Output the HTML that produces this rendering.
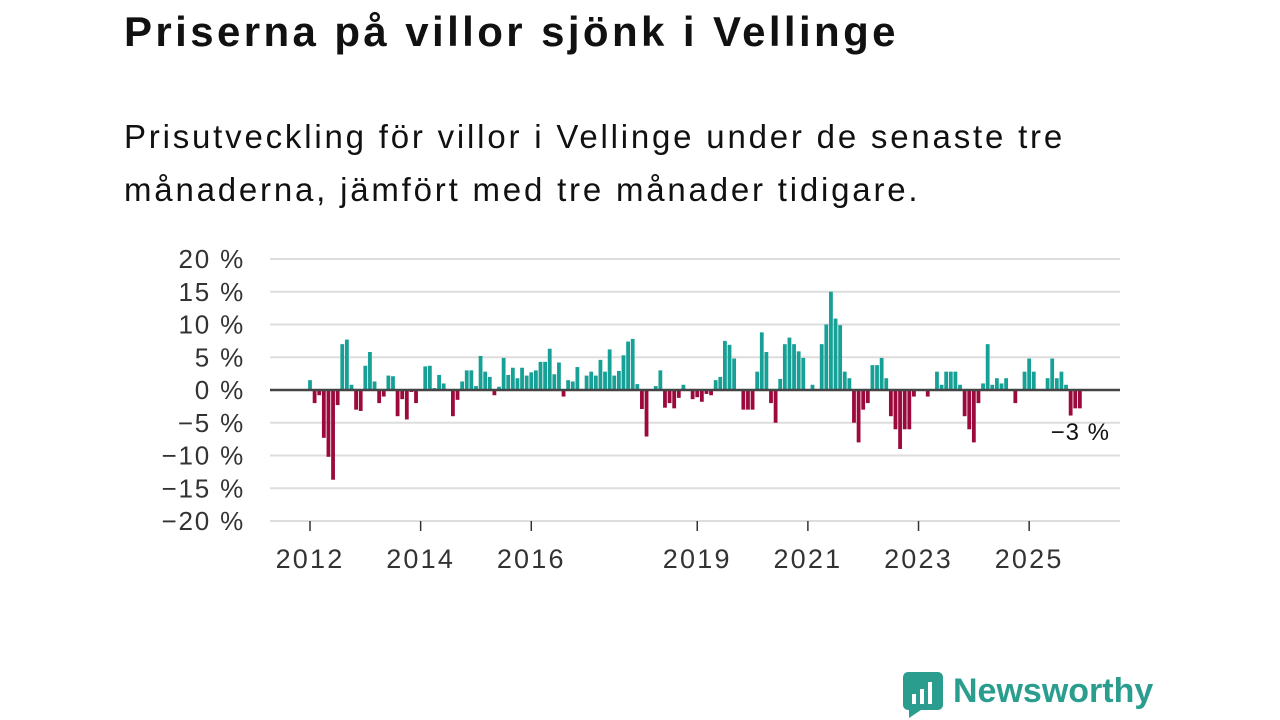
<!DOCTYPE html>
<html><head><meta charset="utf-8"><style>
body{margin:0;width:1280px;height:720px;background:#fff;font-family:"Liberation Sans",sans-serif;overflow:hidden;position:relative}
h1{position:absolute;left:124px;top:8px;margin:0;font-size:42px;font-weight:bold;color:#111;letter-spacing:3.4px}
.sub{position:absolute;left:124px;top:110px;font-size:33px;line-height:53px;color:#111;width:1100px;letter-spacing:2.8px}
svg{position:absolute;left:0;top:0}
</style></head><body>
<h1>Priserna på villor sjönk i Vellinge</h1>
<div class="sub">Prisutveckling för villor i Vellinge under de senaste tre<br>månaderna, jämfört med tre månader tidigare.</div>
<svg id="chart" width="1280" height="720"></svg>
<script>
const values=[1.5,-2,-0.8,-7.3,-10.2,-13.7,-2.3,7,7.7,0.8,-3,-3.2,3.7,5.8,1.3,-2,-1,2.2,2.1,-4,-1.4,-4.5,-0.3,-2,0,3.6,3.7,0.3,2.3,1,0,-4,-1.5,1.3,3,3,0.6,5.2,2.8,2,-0.8,0.5,4.9,2.3,
3.4,1.8,3.4,2.2,2.7,3,4.3,4.3,6.3,2.4,4.2,-1,1.5,1.3,3.5,0,2.2,2.8,2.2,4.6,2.8,6.2,2.2,2.9,5.3,7.4,7.8,0.9,-2.9,-7.1,0,0.6,3,-2.7,-2,-2.8,-1.2,0.8,0,-1.4,-1.1,-1.8,-0.6,
-0.8,1.5,2,7.5,6.9,4.8,0,-3,-3,-3,2.8,8.8,5.8,-2,-5,1.7,7,8,7,5.9,4.9,0,0.8,0,7,10,15,10.9,9.9,2.8,1.8,-5,-8,-3,-2,3.8,3.8,4.9,1.8,-4,-6,-9,-6,-6,
-1,0,0,-1,0,2.8,0.8,2.8,2.8,2.8,0.8,-4,-6,-8,-2,1,7,0.8,1.8,1,1.8,0,-2,0,2.8,4.8,2.8,0,0,1.8,4.8,1.8,2.8,0.8,-3.9,-2.8,-2.8];
const startYear=2012;
const yTicks=[20,15,10,5,0,-5,-10,-15,-20];
const xYears=[2012,2014,2016,2019,2021,2023,2025];
const lastLabel="−3 %";
const svg=document.getElementById('chart');
const NS='http://www.w3.org/2000/svg';
const y=v=>390-v*6.55;
const x=i=>310+i*4.61;
const xy=yr=>x((yr-startYear)*12);
function mk(t,a){const e=document.createElementNS(NS,t);for(const k in a)e.setAttribute(k,a[k]);svg.appendChild(e);return e;}
yTicks.forEach(t=>{
  const g=mk('line',{x1:270,x2:1120,y1:y(t),y2:y(t),stroke:'#ddd','stroke-width':2});
  
  
  const l=mk('text',{x:245,y:y(t)+9,'text-anchor':'end','font-size':26,'letter-spacing':1.8,fill:'#333','font-family':'Liberation Sans, sans-serif'});
  l.textContent=(t<0?'−'+(-t):t)+' %';
  
  
});
values.forEach((v,i)=>{
  const r=mk('rect',{x:x(i)-1.9,width:3.8,y:Math.min(y(v),390),height:Math.abs(y(v)-390),fill:v>=0?'#17a096':'#9c0a3d'});
  
  
});
const z=mk('line',{x1:270,x2:1120,y1:390,y2:390,stroke:'#444','stroke-width':2.5});


xYears.forEach(yr=>{
  const t=mk('line',{x1:xy(yr),x2:xy(yr),y1:521,y2:531,stroke:'#333','stroke-width':1.5});
  
  
  const l=mk('text',{x:xy(yr),y:568,'text-anchor':'middle','font-size':27,'letter-spacing':2.2,fill:'#333','font-family':'Liberation Sans, sans-serif'});
  l.textContent=yr;
  
  
});
const ll=mk('text',{x:1110,y:440,'text-anchor':'end','font-size':24,'letter-spacing':1,fill:'#111','font-family':'Liberation Sans, sans-serif'});
ll.textContent=lastLabel;


</script>
<div style="position:absolute;left:903px;top:672px;display:flex;align-items:center">
<svg width="40" height="46" style="position:static"><rect x="0" y="0" width="40" height="38" rx="5" fill="#2a9d8f"/><polygon points="6,38 18,38 6,46" fill="#2a9d8f"/><rect x="9" y="22" width="4" height="10" fill="#fff"/><rect x="17" y="17" width="4" height="15" fill="#fff"/><rect x="25" y="10" width="4" height="22" fill="#fff"/></svg>
<span style="font-size:34px;font-weight:bold;color:#2a9d8f;margin-left:10px;margin-top:-8px">Newsworthy</span></div>
</body></html>
